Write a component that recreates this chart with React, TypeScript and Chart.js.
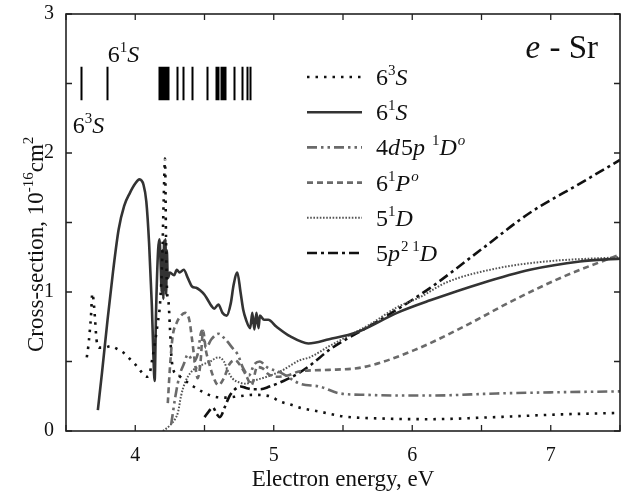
import React, { useEffect, useRef } from 'react';
import { Chart, registerables } from 'chart.js';

Chart.register(...registerables);

const FONT = '"Liberation Serif", "Times New Roman", serif';

// ---- data (energy in eV, cross-section in 1e-16 cm^2) ----
const E_63S = [3.65, 3.66, 3.67, 3.68, 3.69, 3.70, 3.71, 3.72, 3.74, 3.78, 3.82, 3.87, 3.92, 3.96, 4.00, 4.04, 4.08, 4.10, 4.12, 4.14, 4.16, 4.18, 4.195, 4.205, 4.215, 4.222, 4.23, 4.24, 4.25, 4.26, 4.275, 4.30, 4.35, 4.42, 4.49, 4.56, 4.65, 4.75, 4.85, 4.97, 5.05, 5.12, 5.20, 5.33, 5.50, 5.77, 6.13, 6.60, 7.09, 7.50];
const CS_63S = [0.53, 0.60, 0.70, 0.82, 0.99, 0.93, 0.80, 0.66, 0.60, 0.60, 0.61, 0.59, 0.56, 0.52, 0.48, 0.43, 0.39, 0.40, 0.50, 0.62, 0.76, 0.93, 1.25, 1.65, 1.96, 1.40, 1.00, 0.93, 0.75, 0.55, 0.44, 0.41, 0.37, 0.32, 0.28, 0.25, 0.24, 0.25, 0.26, 0.25, 0.21, 0.19, 0.165, 0.14, 0.105, 0.09, 0.085, 0.10, 0.12, 0.13];

const E_61S = [3.73, 3.76, 3.80, 3.84, 3.88, 3.92, 3.96, 4.00, 4.03, 4.06, 4.08, 4.10, 4.12, 4.13, 4.14, 4.15, 4.165, 4.175, 4.185, 4.19, 4.197, 4.203, 4.208, 4.213, 4.218, 4.223, 4.228, 4.235, 4.25, 4.28, 4.30, 4.32, 4.35, 4.38, 4.41, 4.44, 4.47, 4.50, 4.52, 4.55, 4.57, 4.60, 4.63, 4.66, 4.69, 4.71, 4.737, 4.76, 4.78, 4.80, 4.83, 4.845, 4.86, 4.875, 4.89, 4.90, 4.93, 4.96, 5.02, 5.12, 5.25, 5.40, 5.60, 5.89, 6.13, 6.49, 6.85, 7.21, 7.50];
const CS_61S = [0.15, 0.42, 0.80, 1.15, 1.45, 1.62, 1.71, 1.78, 1.81, 1.77, 1.65, 1.35, 0.90, 0.58, 0.36, 0.85, 1.30, 1.38, 1.15, 1.00, 1.30, 0.95, 1.37, 1.05, 1.38, 0.98, 1.30, 1.10, 1.14, 1.12, 1.16, 1.14, 1.16, 1.10, 1.04, 1.03, 1.01, 0.98, 0.95, 0.90, 0.88, 0.91, 0.85, 0.83, 0.92, 1.05, 1.14, 1.00, 0.87, 0.80, 0.74, 0.85, 0.73, 0.85, 0.74, 0.83, 0.80, 0.80, 0.75, 0.68, 0.63, 0.66, 0.71, 0.85, 0.94, 1.06, 1.16, 1.22, 1.24];

const E_4D5P = [4.26, 4.29, 4.32, 4.35, 4.38, 4.42, 4.45, 4.48, 4.51, 4.55, 4.60, 4.65, 4.70, 4.74, 4.78, 4.82, 4.86, 4.90, 4.95, 5.05, 5.19, 5.33, 5.48, 5.67, 5.90, 6.13, 6.61, 7.00, 7.50];
const CS_4D5P = [0.05, 0.25, 0.40, 0.48, 0.55, 0.50, 0.55, 0.72, 0.60, 0.66, 0.70, 0.66, 0.60, 0.55, 0.45, 0.40, 0.48, 0.50, 0.46, 0.42, 0.34, 0.32, 0.27, 0.26, 0.255, 0.255, 0.27, 0.278, 0.285];

const E_61P = [4.235, 4.25, 4.27, 4.30, 4.33, 4.36, 4.39, 4.41, 4.43, 4.45, 4.47, 4.49, 4.51, 4.53, 4.56, 4.60, 4.64, 4.68, 4.72, 4.76, 4.80, 4.84, 4.88, 4.92, 4.96, 5.02, 5.10, 5.19, 5.40, 5.65, 6.01, 6.37, 6.73, 7.09, 7.50];
const CS_61P = [0.20, 0.45, 0.68, 0.78, 0.83, 0.85, 0.80, 0.66, 0.50, 0.38, 0.48, 0.72, 0.58, 0.50, 0.40, 0.33, 0.38, 0.48, 0.51, 0.47, 0.40, 0.33, 0.46, 0.45, 0.41, 0.39, 0.40, 0.43, 0.44, 0.46, 0.58, 0.75, 0.94, 1.11, 1.27];

const E_51D = [4.20, 4.25, 4.29, 4.31, 4.33, 4.36, 4.40, 4.47, 4.54, 4.60, 4.64, 4.67, 4.70, 4.75, 4.80, 4.85, 4.95, 5.05, 5.19, 5.26, 5.40, 5.55, 5.70, 5.89, 6.05, 6.25, 6.61, 6.97, 7.50];
const CS_51D = [0.0, 0.04, 0.09, 0.14, 0.25, 0.35, 0.42, 0.47, 0.50, 0.53, 0.50, 0.43, 0.38, 0.35, 0.34, 0.36, 0.39, 0.43, 0.51, 0.53, 0.61, 0.69, 0.77, 0.89, 0.96, 1.07, 1.17, 1.22, 1.25];

const E_5P2 = [4.50, 4.53, 4.56, 4.59, 4.61, 4.65, 4.68, 4.72, 4.76, 4.80, 4.85, 4.90, 4.97, 5.07, 5.17, 5.26, 5.41, 5.77, 6.13, 6.49, 6.85, 7.21, 7.50];
const CS_5P2 = [0.10, 0.14, 0.17, 0.12, 0.10, 0.18, 0.25, 0.30, 0.32, 0.31, 0.30, 0.30, 0.32, 0.36, 0.41, 0.47, 0.59, 0.80, 1.03, 1.30, 1.57, 1.78, 1.95];

// energy levels (eV) marked at the top
const LEVELS = [3.606, 3.794, 4.171, 4.183, 4.195, 4.208, 4.222, 4.234, 4.304, 4.342, 4.407, 4.52, 4.583, 4.60, 4.617, 4.636, 4.648, 4.713, 4.768, 4.805, 4.828];
const LEVEL_Y = [2.38, 2.62];

const X_TICKS = [4, 5, 6, 7];
const Y_TICKS = [0, 1, 2, 3];

type Run = { t: string; it?: boolean; sup?: boolean };

const LBL_63S: Run[] = [{ t: '6' }, { t: '3', sup: true }, { t: 'S', it: true }];
const LBL_61S: Run[] = [{ t: '6' }, { t: '1', sup: true }, { t: 'S', it: true }];
const LBL_4D5P: Run[] = [{ t: '4' }, { t: 'd', it: true }, { t: '5' }, { t: 'p', it: true }, { t: ' ' }, { t: '1', sup: true }, { t: 'D', it: true }, { t: 'o', it: true, sup: true }];
const LBL_61P: Run[] = [{ t: '6' }, { t: '1', sup: true }, { t: 'P', it: true }, { t: 'o', it: true, sup: true }];
const LBL_51D: Run[] = [{ t: '5' }, { t: '1', sup: true }, { t: 'D', it: true }];
const LBL_5P2: Run[] = [{ t: '5' }, { t: 'p', it: true }, { t: '2 1', sup: true }, { t: 'D', it: true }];

const TITLE_X = 'Electron energy, eV';
const TITLE_Y: Run[] = [{ t: 'Cross-section, 10' }, { t: '-16', sup: true }, { t: 'cm' }, { t: '2', sup: true }];
const PLOT_TITLE: Run[] = [{ t: 'e', it: true }, { t: ' - Sr' }];

function pts(xs: number[], ys: number[]) {
  return xs.map((x, i) => ({ x, y: ys[i] }));
}

function runsWidth(ctx: CanvasRenderingContext2D, runs: Run[], size: number) {
  let w = 0;
  for (const r of runs) {
    const fs = r.sup ? Math.round(size * 0.64) : size;
    ctx.font = `${r.it ? 'italic ' : ''}${fs}px ${FONT}`;
    w += ctx.measureText(r.t).width + (r.it && !r.sup ? 1 : 0);
  }
  return w;
}

function drawRuns(ctx: CanvasRenderingContext2D, runs: Run[], x: number, y: number, size: number) {
  let cx = x;
  ctx.textBaseline = 'alphabetic';
  ctx.textAlign = 'left';
  for (const r of runs) {
    const fs = r.sup ? Math.round(size * 0.64) : size;
    ctx.font = `${r.it ? 'italic ' : ''}${fs}px ${FONT}`;
    ctx.fillText(r.t, cx, r.sup ? y - size * 0.42 : y);
    cx += ctx.measureText(r.t).width + (r.it && !r.sup ? 1 : 0);
  }
}

const overlay = {
  id: 'overlay',
  afterDatasetsDraw(chart: any) {
    const { ctx, chartArea: a, scales } = chart;
    const xs = scales.x;
    const ys = scales.y;
    ctx.save();
    ctx.fillStyle = '#111';
    // frame
    ctx.strokeStyle = '#222';
    ctx.lineWidth = 1.6;
    ctx.setLineDash([]);
    ctx.strokeRect(a.left, a.top, a.right - a.left, a.bottom - a.top);
    // inward ticks on all sides
    ctx.lineWidth = 1.3;
    ctx.beginPath();
    const tl = 6;
    for (const t of xs.ticks) {
      const px = xs.getPixelForValue(t.value);
      ctx.moveTo(px, a.bottom); ctx.lineTo(px, a.bottom - tl);
      ctx.moveTo(px, a.top); ctx.lineTo(px, a.top + tl);
    }
    for (const t of ys.ticks) {
      const py = ys.getPixelForValue(t.value);
      ctx.moveTo(a.left, py); ctx.lineTo(a.left + tl, py);
      ctx.moveTo(a.right, py); ctx.lineTo(a.right - tl, py);
    }
    ctx.stroke();

    // energy levels
    ctx.strokeStyle = '#000';
    ctx.lineWidth = 2;
    ctx.beginPath();
    for (const e of LEVELS) {
      const px = Math.round(xs.getPixelForValue(e)) + 0.5;
      ctx.moveTo(px, ys.getPixelForValue(LEVEL_Y[0]));
      ctx.lineTo(px, ys.getPixelForValue(LEVEL_Y[1]));
    }
    ctx.stroke();
    drawRuns(ctx, LBL_61S, xs.getPixelForValue(LEVELS[1]) + 1, ys.getPixelForValue(2.655), 24);
    drawRuns(ctx, LBL_63S, xs.getPixelForValue(LEVELS[0]) - 8, ys.getPixelForValue(2.145), 24);

    // plot title
    const tw = runsWidth(ctx, PLOT_TITLE, 33);
    drawRuns(ctx, PLOT_TITLE, a.right - 22 - tw, a.top + 44, 33);

    // legend
    const ds = chart.data.datasets;
    ds.forEach((d: any, i: number) => {
      const yy = 77 + i * 35.2;
      ctx.strokeStyle = d.borderColor;
      ctx.lineWidth = d.borderWidth;
      ctx.setLineDash(d.borderDash || []);
      ctx.beginPath();
      ctx.moveTo(307, yy);
      ctx.lineTo(362, yy);
      ctx.stroke();
      ctx.setLineDash([]);
      drawRuns(ctx, d.richLabel, 376, yy + 8, 24);
    });

    // axis titles
    ctx.font = `23px ${FONT}`;
    ctx.textAlign = 'center';
    ctx.textBaseline = 'alphabetic';
    ctx.fillText(TITLE_X, (a.left + a.right) / 2, 486);

    ctx.save();
    ctx.translate(43, 352);
    ctx.rotate(-Math.PI / 2);
    drawRuns(ctx, TITLE_Y, 0, 0, 23);
    ctx.restore();

    ctx.restore();
  },
};

export default function App() {
  const ref = useRef<HTMLCanvasElement | null>(null);
  useEffect(() => {
    if (!ref.current) return;
    const common = { pointRadius: 0, fill: false, cubicInterpolationMode: 'monotone' as const };
    const chart = new Chart(ref.current, {
      type: 'line',
      data: {
        datasets: [
          { ...common, label: '6³S', richLabel: LBL_63S, data: pts(E_63S, CS_63S), borderColor: '#111', borderWidth: 2.6, borderDash: [2.5, 6] },
          { ...common, label: '6¹S', richLabel: LBL_61S, data: pts(E_61S, CS_61S), borderColor: '#333', borderWidth: 2.6, borderDash: [] },
          { ...common, label: '4d5p ¹D°', richLabel: LBL_4D5P, data: pts(E_4D5P, CS_4D5P), borderColor: '#6a6a6a', borderWidth: 2.6, borderDash: [10, 4, 2.5, 4, 2.5, 4] },
          { ...common, label: '6¹P°', richLabel: LBL_61P, data: pts(E_61P, CS_61P), borderColor: '#6a6a6a', borderWidth: 2.6, borderDash: [6, 4] },
          { ...common, label: '5¹D', richLabel: LBL_51D, data: pts(E_51D, CS_51D), borderColor: '#555', borderWidth: 2, borderDash: [1.6, 1.6] },
          { ...common, label: '5p²¹D', richLabel: LBL_5P2, data: pts(E_5P2, CS_5P2), borderColor: '#111', borderWidth: 2.6, borderDash: [10, 4, 3, 4] },
        ] as any,
      },
      options: {
        responsive: false,
        animation: false,
        layout: { padding: { top: 14, right: 7, left: 0, bottom: 0 } },
        plugins: { legend: { display: false }, tooltip: { enabled: false } },
        scales: {
          x: {
            type: 'linear',
            min: 3.5,
            max: 7.5,
            grid: { display: false, drawTicks: false },
            border: { display: false },
            ticks: {
              stepSize: 0.5,
              padding: 13,
              autoSkip: false,
              maxRotation: 0,
              color: '#111',
              font: { family: FONT, size: 20 },
              callback: (v: any) => (X_TICKS.includes(Number(v)) ? String(v) : ''),
            },
            afterFit: (s: any) => { s.height = 65; s.paddingLeft = 0; s.paddingRight = 0; },
          },
          y: {
            type: 'linear',
            min: 0,
            max: 3,
            grid: { display: false, drawTicks: false },
            border: { display: false },
            ticks: {
              stepSize: 0.5,
              padding: 12,
              autoSkip: false,
              color: '#111',
              font: { family: FONT, size: 20 },
              callback: (v: any) => (Y_TICKS.includes(Number(v)) ? String(v) : ''),
            },
            afterFit: (s: any) => { s.width = 66; s.paddingTop = 0; s.paddingBottom = 0; },
          },
        },
      },
      plugins: [overlay],
    });
    return () => chart.destroy();
  }, []);
  return (
    <div style={{ position: 'fixed', left: 0, top: 0, width: 627, height: 496, background: '#fff' }}>
      <canvas ref={ref} width={627} height={496} style={{ display: 'block' }} />
    </div>
  );
}
